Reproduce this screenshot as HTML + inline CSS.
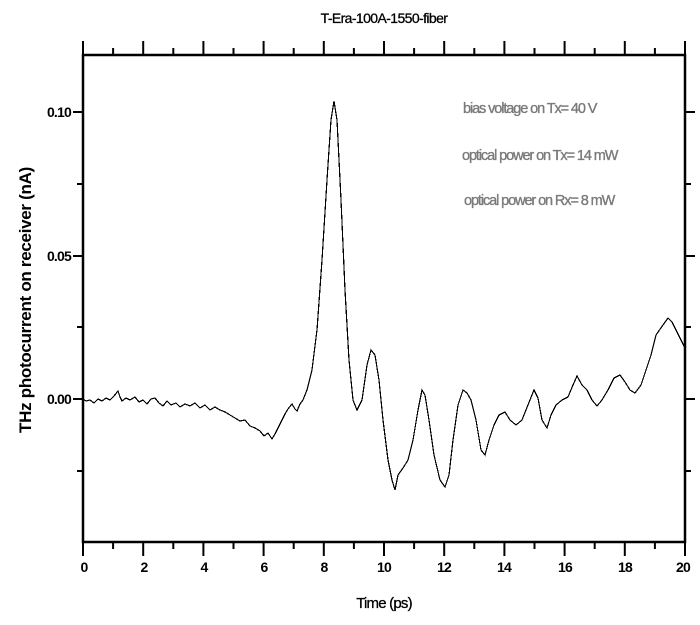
<!DOCTYPE html>
<html><head><meta charset="utf-8"><style>
html,body{margin:0;padding:0;background:#fff;}
svg{display:block;font-family:"Liberation Sans",Arial,sans-serif;}
</style></head><body>
<svg width="700" height="625" viewBox="0 0 700 625" xmlns="http://www.w3.org/2000/svg">
<rect width="700" height="625" fill="#fff"/>
<text x="384" y="23" font-size="14" text-anchor="middle" letter-spacing="-0.6" fill="#000" stroke="#000" stroke-width="0.3">T-Era-100A-1550-fiber</text>
<rect x="83" y="55" width="602" height="487" fill="none" stroke="#000" stroke-width="2.5"/>
<g stroke="#000" stroke-width="2">
<path d="M83,542v14 M143.2,542v14 M203.4,542v14 M263.6,542v14 M323.8,542v14 M384,542v14 M444.2,542v14 M504.4,542v14 M564.6,542v14 M624.8,542v14 M685,542v14"/>
<path d="M113.1,542v7 M173.3,542v7 M233.5,542v7 M293.7,542v7 M353.9,542v7 M414.1,542v7 M474.3,542v7 M534.5,542v7 M594.7,542v7 M654.9,542v7"/>
<path d="M83,55v-14 M143.2,55v-14 M203.4,55v-14 M263.6,55v-14 M323.8,55v-14 M384,55v-14 M444.2,55v-14 M504.4,55v-14 M564.6,55v-14 M624.8,55v-14 M685,55v-14"/>
<path d="M113.1,55v-7 M173.3,55v-7 M233.5,55v-7 M293.7,55v-7 M353.9,55v-7 M414.1,55v-7 M474.3,55v-7 M534.5,55v-7 M594.7,55v-7 M654.9,55v-7"/>
<path d="M83,112h-10 M83,256h-10 M83,399h-10 M685,112h10 M685,256h10 M685,399h10"/>
<path d="M83,184h-6 M83,327h-6 M83,471h-6 M685,184h6 M685,327h6 M685,471h6"/>
</g>
<g font-size="14" font-weight="bold" text-anchor="end" letter-spacing="-0.8">
<text x="71" y="117">0.10</text>
<text x="71" y="261">0.05</text>
<text x="71" y="404">0.00</text>
</g>
<g font-size="14" font-weight="bold" text-anchor="middle" letter-spacing="-0.8">
<text x="84" y="572">0</text><text x="144" y="572">2</text><text x="204" y="572">4</text><text x="264" y="572">6</text><text x="324" y="572">8</text><text x="384" y="572">10</text><text x="444" y="572">12</text><text x="504" y="572">14</text><text x="565" y="572">16</text><text x="625" y="572">18</text><text x="683" y="572">20</text>
</g>
<text x="384" y="608" font-size="15" text-anchor="middle" letter-spacing="-0.8" stroke="#000" stroke-width="0.3">Time (ps)</text>
<text transform="translate(31,300) rotate(-90)" font-size="17" font-weight="bold" text-anchor="middle" letter-spacing="-0.3">THz photocurrent on receiver (nA)</text>
<g font-size="14.5" fill="#7a7a7a" stroke="#7a7a7a" stroke-width="0.35" letter-spacing="-1.1">
<text x="463" y="113">bias voltage on Tx= 40 V</text>
<text x="462" y="160">optical power on Tx= 14 mW</text>
<text x="464" y="205">optical power on Rx= 8 mW</text>
</g>
<polyline fill="none" stroke="#000" stroke-width="1.2" stroke-linejoin="miter" shape-rendering="crispEdges" points="83,399 86,401 90,400 94,403 98,399 102,401 106,398 110,400 114,396 118,391 120,397 122,401 126,398 130,400 135,397 139,402 143,400 147,404 151,399 155,398 159,403 163,406 167,401 171,405 176,403 180,407 185,404 190,406 195,403 200,408 205,405 210,410 215,407 220,410 225,412 230,415 235,418 240,421 245,420 250,426 255,428 260,431 264,436 268,433 272,439 275,434 278,428 282,420 285,414 288,409 292,404 295,409 297,411 300,404 303,400 307,390 312,370 317,330 322,260 327,180 331,120 334,101 337,120 341,200 345,290 349,360 353,400 357,410 362,400 367,365 371,350 375,355 379,380 383,420 388,460 392,480 395,490 398,475 403,468 408,460 413,440 418,410 422,390 425,395 429,420 434,455 440,480 445,487 449,475 453,440 458,405 463,390 467,393 471,400 476,420 481,450 485,455 489,440 494,425 499,415 505,412 510,420 516,425 522,420 528,405 534,390 538,398 542,420 547,428 551,415 556,405 562,400 568,397 573,385 577,376 582,385 587,390 592,400 597,406 602,400 608,390 614,378 620,375 625,382 630,390 635,393 641,385 646,370 651,355 656,335 663,325 668,318 672,322 676,330 681,340 685,348"/>
</svg>
</body></html>
